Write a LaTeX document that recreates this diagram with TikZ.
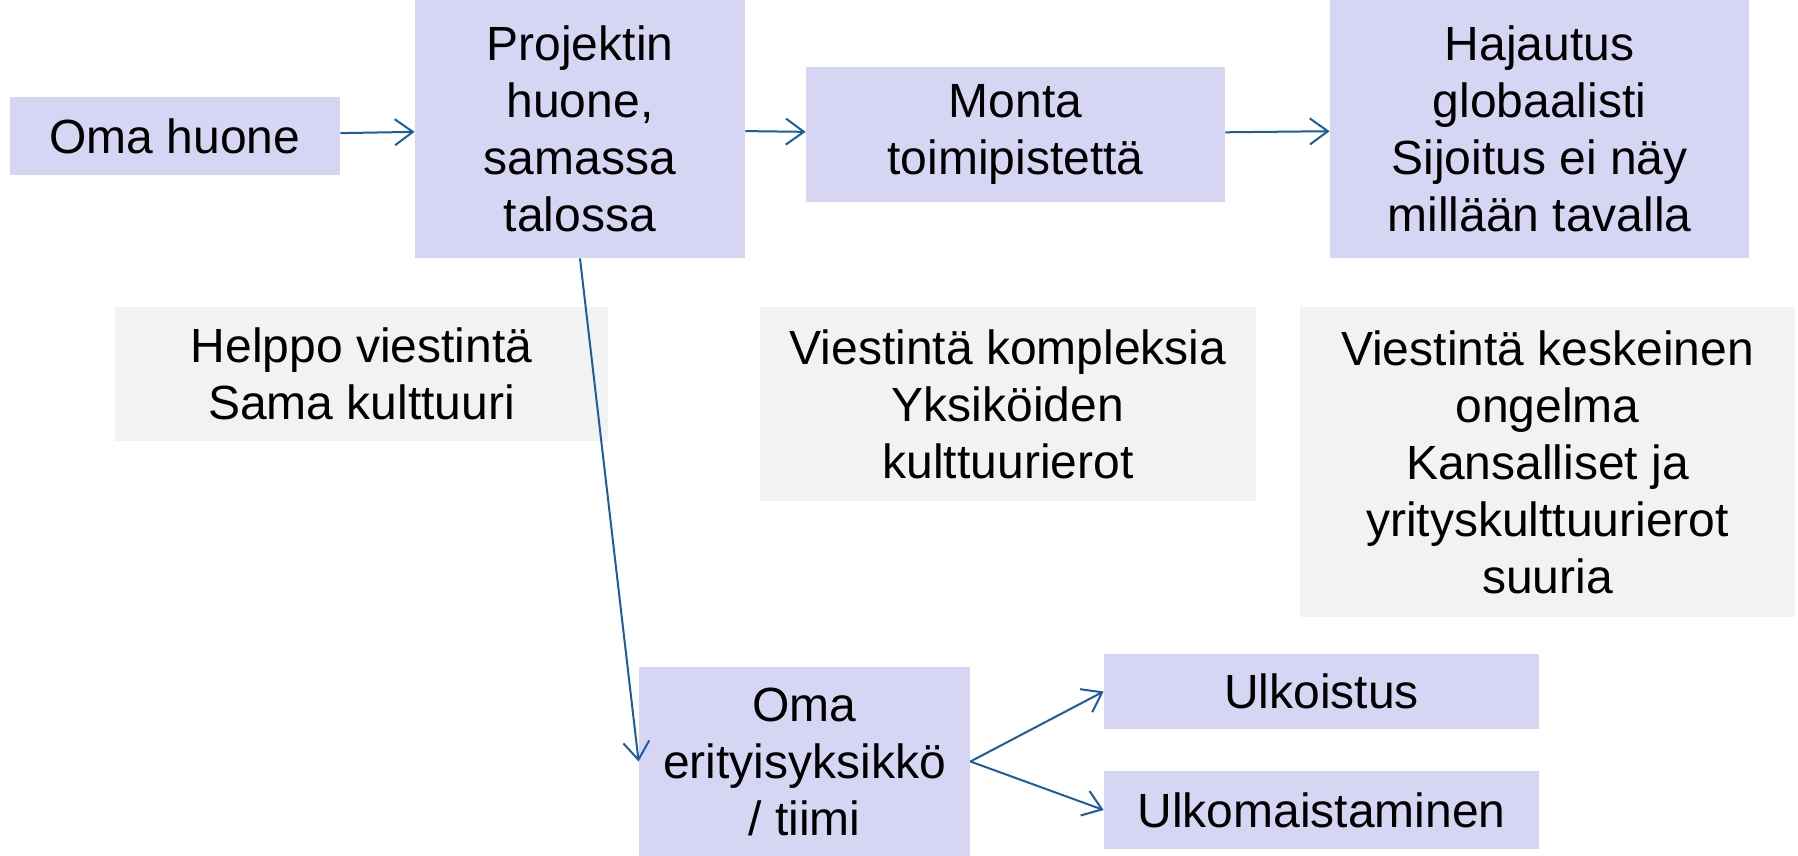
\documentclass[tikz,border=0pt]{standalone}
\usepackage{fontspec}
\setmainfont{Liberation Sans}
\usetikzlibrary{arrows.meta}
\definecolor{boxblue}{RGB}{214,214,244}
\definecolor{notegray}{RGB}{242,242,242}
\definecolor{linkblue}{RGB}{30,92,160}
\begin{document}
\begin{tikzpicture}[x=0.5pt, y=-0.5pt,
stage/.style={draw=none, fill=boxblue, align=center, inner sep=0pt, font=\fontsize{24}{28.5}\selectfont},
note/.style={stage, fill=notegray},
link/.style={draw=linkblue, line width=1pt}, >={Straight Barb[length=9pt,width=13pt]}
]
\useasboundingbox (0,0) rectangle (1798,856);
% top row
\node[stage, minimum width=165pt, minimum height=39pt] (oma) at (175,136) {Oma huone};
\node[stage, minimum width=165pt, minimum height=129pt] (proj) at (580,129) {Projektin\\huone,\\samassa\\talossa};
\node[stage, minimum width=209.5pt, minimum height=67.5pt] (monta) at (1015.5,134.5) {Monta\\toimipistettä};
\node[stage, minimum width=209.5pt, minimum height=129pt] (haj) at (1539.5,129) {Hajautus\\globaalisti\\Sijoitus ei näy\\millään tavalla};
% notes
\node[note, minimum width=246.5pt, minimum height=67pt] (helppo) at (361.5,374) {Helppo viestintä\\Sama kulttuuri};
\node[note, minimum width=248pt, minimum height=97pt] (kompl) at (1008,404) {Viestintä kompleksia\\Yksiköiden\\kulttuurierot};
\node[note, minimum width=247.5pt, minimum height=155pt] (kesk) at (1547.5,462) {Viestintä keskeinen\\ongelma\\Kansalliset ja\\yrityskulttuurierot\\suuria};
% bottom
\node[stage, minimum width=165.5pt, minimum height=94.5pt] (erity) at (804.5,761.5) {Oma\\erityisyksikkö\\/ tiimi};
\node[stage, minimum width=217.5pt, minimum height=37.5pt] (ulk) at (1321.5,691.5) {Ulkoistus};
\node[stage, minimum width=217.5pt, minimum height=39pt] (ulkom) at (1321.5,810) {Ulkomaistaminen};
% connectors
\draw[link, ->] (oma) -- (proj);
\draw[link, ->] (proj) -- (monta);
\draw[link, ->] (monta) -- (haj);
\draw[link, ->] (proj.south) -- (erity.west);
\foreach \to in {ulk, ulkom}
  \draw[link, ->] (erity.east) -- (\to.west);
\end{tikzpicture}
\end{document}
